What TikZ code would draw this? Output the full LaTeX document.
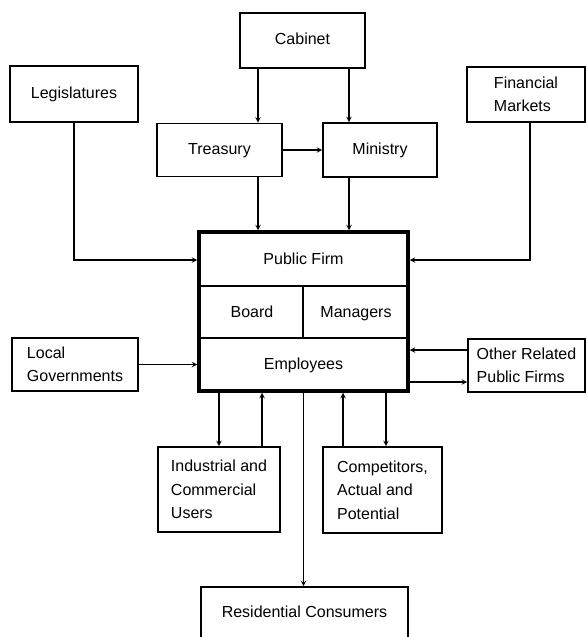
\documentclass[tikz,border=0pt]{standalone}
\usepackage{fontspec}
\setmainfont{Liberation Sans}
\usetikzlibrary{arrows}
\tikzset{arrow/.style = {line width=1.4pt,->,>=stealth}}
\tikzset{box/.style = {draw, line width=1.7pt, inner sep=0pt, align=left,
  font=\fontsize{16}{23.5}\selectfont}}
\tikzset{oneline/.style = {text height=11.5pt, text depth=3.5pt}}
\tikzset{lbl/.style = {inner sep=0pt, oneline, font=\fontsize{16}{20}\selectfont}}

\begin{document}
\begin{tikzpicture}[x=1pt,y=-1pt]
\clip (0,0) rectangle (588,637);

% outside boxes
\node[box, oneline, minimum width=125, minimum height=55] (cab) at (302.5,40.5) {Cabinet};
\node[box, oneline, minimum width=128, minimum height=56] (leg) at (74,94) {Legislatures};
\node[box, minimum width=118, minimum height=55] (fin) at (526,94.5) {Financial\\Markets};
\node[box, oneline, minimum width=125, minimum height=53] (tre) at (219.5,150) {Treasury};
\node[box, oneline, minimum width=114, minimum height=54] (min) at (380,150) {Ministry};
\node[box, minimum width=126, minimum height=53] (loc) at (75,364.5) {Local\\Governments};
\node[box, minimum width=117, minimum height=53] (oth) at (526.5,365.5) {Other Related\\Public Firms};
\node[box, minimum width=122, minimum height=85] (ind) at (219,489.5) {Industrial and\\Commercial\\Users};
\node[box, minimum width=119, minimum height=86] (com) at (382.5,490) {Competitors,\\Actual and\\Potential};
\node[box, minimum width=207, minimum height=100] (res) at (304.5,637) {};
\node[lbl] (rc) at (304.5,613) {Residential Consumers};

% the firm
\node[draw, line width=3.5pt, minimum width=209, minimum height=159] (firm) at (303.5,311.5) {};
\node[lbl] (pf) at (303.5,260) {Public Firm};
\node[lbl] (brd) at (252,313) {Board};
\node[lbl] (mgr) at (356,313) {Managers};
\node[lbl] (emp) at (303.5,365) {Employees};
\draw[line width=1.2pt] (firm.west |- 0,286) -- (firm.east |- 0,286);
\draw[line width=1.2pt] (firm.west |- 0,338) -- (firm.east |- 0,338);
\draw[line width=1.2pt] (303,286) -- (303,338);

% connectors
\draw[arrow] ([xshift=-44.5pt]cab.south) -- ([xshift=-44.5pt]cab.south |- tre.north);
\draw[arrow] ([xshift=46.5pt]cab.south) -- ([xshift=46.5pt]cab.south |- min.north);
\draw[arrow] (tre) -- (min);
\draw[arrow] ([xshift=38.5pt]tre.south) -- ([xshift=38.5pt]tre.south |- firm.north);
\draw[arrow] ([xshift=-31pt]min.south) -- ([xshift=-31pt]min.south |- firm.north);
\draw[arrow] (leg.south) |- (firm.west |- pf);
\draw[arrow] ([xshift=4pt]fin.south) |- (firm.east |- pf);
\draw[arrow] (loc.east) -- (loc.east -| firm.west);
\draw[arrow] ([yshift=15.5pt]oth.west) -- ([yshift=15.5pt]oth.west -| firm.east);
\draw[arrow] ([yshift=-16.5pt]oth.west -| firm.east) -- ([yshift=-16.5pt]oth.west);
\draw[arrow] (ind.north |- firm.south) -- (ind.north);
\draw[arrow] ([xshift=43pt]ind.north) -- ([xshift=43pt]ind.north |- firm.south);
\draw[arrow] ([xshift=-39.5pt]com.north) -- ([xshift=-39.5pt]com.north |- firm.south);
\draw[arrow] ([xshift=3.5pt]com.north |- firm.south) -- ([xshift=3.5pt]com.north);
\draw[arrow] (firm.south) -- (firm.south |- res.north);
\end{tikzpicture}
\end{document}
